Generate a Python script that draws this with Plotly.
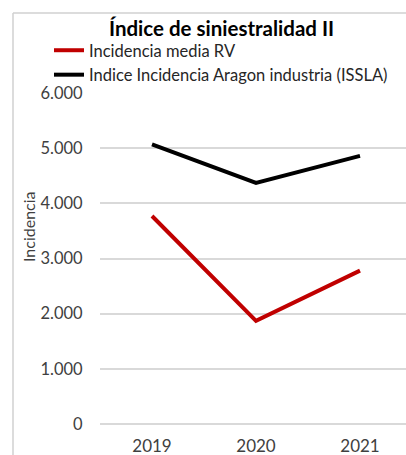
import plotly.graph_objects as go

years = ["2019", "2020", "2021"]
incidencia_rv = [3770, 1870, 2780]
indice_issla = [5070, 4370, 4860]
y_ticks = [0, 1000, 2000, 3000, 4000, 5000, 6000]
y_tick_labels = ["0", "1.000", "2.000", "3.000", "4.000", "5.000", "6.000"]

FONT = "Lato"
W, H = 406, 455
ML, MT, MB = 100, 93, 31
PW, PH = W - ML, H - MT - MB


def px_x(px):
    return (px - ML) / PW


def px_y(py):
    return (H - MB - py) / PH


fig = go.Figure()
fig.add_trace(go.Scatter(x=years, y=incidencia_rv, mode="lines",
                         name="Incidencia media RV",
                         line=dict(color="#c00000", width=4), cliponaxis=False))
fig.add_trace(go.Scatter(x=years, y=indice_issla, mode="lines",
                         name="Indice Incidencia Aragon industria (ISSLA)",
                         line=dict(color="#000000", width=4), cliponaxis=False))

fig.update_layout(
    width=W, height=H,
    margin=dict(l=ML, r=0, t=MT, b=MB, autoexpand=False),
    paper_bgcolor="white", plot_bgcolor="white",
    font=dict(family=FONT, color="#404040"),
    showlegend=True,
    legend=dict(x=px_x(49), y=px_y(33), xanchor="left", yanchor="top",
                bgcolor="rgba(0,0,0,0)", font=dict(size=16.5, color="#262626"),
                itemwidth=30, tracegroupgap=0),
    annotations=[
        dict(text="<b>Índice de siniestralidad II</b>", x=px_x(221), y=px_y(28),
             xref="paper", yref="paper", showarrow=False,
             font=dict(size=20.5, color="#000000"), xanchor="center", yanchor="middle"),
        dict(text="Incidencia", x=px_x(28), y=px_y(227), xref="paper", yref="paper",
             showarrow=False, textangle=-90, font=dict(size=16, color="#404040"),
             xanchor="center", yanchor="middle"),
    ],
    shapes=[
        dict(type="line", xref="paper", yref="paper", x0=px_x(13), x1=px_x(420),
             y0=px_y(13), y1=px_y(13), line=dict(color="#d0d0d0", width=1.5)),
        dict(type="line", xref="paper", yref="paper", x0=px_x(13), x1=px_x(13),
             y0=px_y(13), y1=px_y(470), line=dict(color="#d0d0d0", width=1.5)),
    ],
)

fig.update_xaxes(type="category", range=[-0.5, -0.5 + PW / 104], automargin=False,
                 showgrid=False, zeroline=False, showline=False,
                 ticks="outside", ticklen=7, tickcolor="rgba(0,0,0,0)",
                 tickfont=dict(size=17, color="#404040"))
fig.update_yaxes(range=[0, 6000], tickvals=y_ticks, ticktext=y_tick_labels,
                 automargin=False,
                 showgrid=True, gridcolor="#d9d9d9", gridwidth=1.5,
                 zeroline=True, zerolinecolor="#d9d9d9", zerolinewidth=1.5,
                 showline=False, ticks="outside", ticklen=13,
                 tickcolor="rgba(0,0,0,0)", tickfont=dict(size=16.5, color="#404040"))

fig.write_html("out.html")
